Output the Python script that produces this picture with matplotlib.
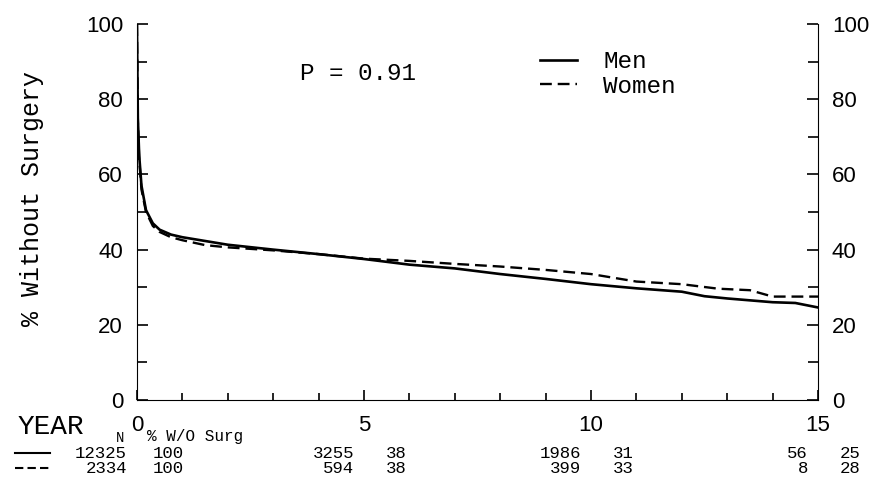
import matplotlib
matplotlib.use("Agg")
import matplotlib.pyplot as plt
import matplotlib.transforms as mtransforms
from matplotlib.lines import Line2D

# survival curves (years, % without surgery)
men_years = [0, 0.02, 0.05, 0.1, 0.2, 0.35, 0.5, 0.75, 1, 1.5, 2, 3, 4, 5, 6, 7, 8, 9, 10, 11, 12, 12.5, 13, 14, 14.5, 15]
men_pct = [100, 75, 65, 57, 50.5, 47, 45.3, 44, 43.3, 42.3, 41.3, 40, 38.8, 37.5, 36, 35, 33.5, 32.2, 30.8, 29.7, 28.8, 27.6, 27, 26, 25.8, 24.6]

women_years = [0, 0.02, 0.05, 0.1, 0.2, 0.35, 0.5, 0.75, 1, 1.5, 2, 3, 4, 5, 6, 7, 8, 9, 10, 11, 12, 12.8, 13.5, 14, 15]
women_pct = [100, 74, 64, 56, 50, 46.3, 44.7, 43.3, 42.5, 41.2, 40.6, 39.8, 38.8, 37.6, 37, 36.2, 35.5, 34.6, 33.5, 31.5, 30.8, 29.6, 29.2, 27.5, 27.5]

# numbers-at-risk table
table_years = [0, 5, 10, 15]
men_n = [12325, 3255, 1986, 56]
men_wo = [100, 38, 31, 25]
women_n = [2334, 594, 399, 8]
women_wo = [100, 38, 33, 28]

mono = "Liberation Mono"
sans = "Liberation Sans"

fig = plt.figure(figsize=(8.95, 4.83), dpi=100)
ax = fig.add_axes([0.153, 0.172, 0.761, 0.778])

ax.plot(men_years, men_pct, color="black", lw=1.9, label="Men")
ax.plot(women_years, women_pct, color="black", lw=1.7, dashes=(5, 2.5), label="Women")

ax.set_xlim(0, 15)
ax.set_ylim(0, 100)
ax.spines["top"].set_visible(False)

ax.set_xticks([0, 5, 10, 15])
ax.set_xticks(range(16), minor=True)
ax.set_yticks(range(0, 101, 20))
ax.set_yticks(range(0, 101, 10), minor=True)
ax.tick_params(axis="both", which="both", direction="in", right=True, labelright=True,
               width=1.2, labelsize=16)
ax.tick_params(axis="y", which="major", length=8, pad=10)
ax.tick_params(axis="y", which="minor", length=7)
ax.tick_params(axis="x", which="major", length=7, pad=11)
ax.tick_params(axis="x", which="minor", length=5)
for lab in ax.get_xticklabels() + ax.yaxis.get_ticklabels(which="major"):
    lab.set_fontfamily(sans)
    lab.set_fontweight("light")

ax.set_ylabel("% Without Surgery", fontfamily=mono, fontsize=18)
ax.yaxis.set_label_coords(-0.136, 0.535)

ax.text(4.87, 87, "P = 0.91", fontfamily=mono, fontsize=17.5, ha="center", va="center")

ax.legend(loc="upper left", bbox_to_anchor=(0.592, 0.93), frameon=False,
          prop={"family": mono, "size": 17.5}, handlelength=1.5, handletextpad=1.1,
          labelspacing=0.05, borderpad=0, borderaxespad=0)

# table under the axis
fig.text(18 / 895, 0.116, "YEAR", fontfamily=mono, fontsize=20, ha="left", va="center")
fig.text(120 / 895, 0.093, "N", fontfamily=mono, fontsize=10, ha="center", va="center")
fig.text(147 / 895, 0.097, "% W/O Surg", fontfamily=mono, fontsize=11.5, ha="left", va="center")

trans = mtransforms.blended_transform_factory(ax.transData, fig.transFigure)
row_y = [0.062, 0.031]
for row, (ns, pcts) in enumerate([(men_n, men_wo), (women_n, women_wo)]):
    for yr, n, p in zip(table_years, ns, pcts):
        ax.text(yr - 0.22, row_y[row], str(n), transform=trans, fontfamily=mono,
                fontsize=12.5, ha="right", va="center", clip_on=False)
        ax.text(yr + 0.7, row_y[row], str(p), transform=trans, fontfamily=mono,
                fontsize=12.5, ha="center", va="center", clip_on=False)

fig.add_artist(Line2D([15 / 895, 50 / 895], [row_y[0], row_y[0]], color="black", lw=1.5))
fig.add_artist(Line2D([15 / 895, 50 / 895], [row_y[1], row_y[1]], color="black", lw=1.5,
                      dashes=(4, 2)))

fig.savefig("out.png", dpi=100)
